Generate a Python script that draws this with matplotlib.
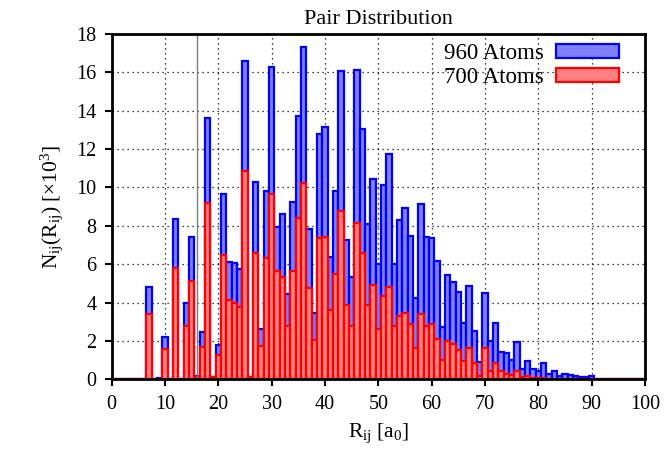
"""Pair distribution histogram for two cluster sizes (960 vs 700 atoms)."""

import matplotlib
matplotlib.use("Agg")
import matplotlib.pyplot as plt
import numpy as np

# bin centres R_ij [a_0], width 1
r_bins = list(range(0, 101))

# counts, units of 10^3
n_960 = [
    0, 0, 0, 0, 0, 0, 0, 4.79, 0, 0.05,
    2.22, 0, 8.33, 0, 3.96, 7.43, 0.15, 2.48, 13.6, 0.14,
    1.77, 9.64, 6.13, 6.04, 5.76, 16.58, 0.14, 10.30, 2.62, 9.83,
    16.25, 7.95, 8.61, 4.44, 9.25, 13.72, 17.33, 7.83, 3.44, 12.78,
    13.16, 6.39, 9.83, 16.08, 7.26, 5.31, 16.11, 13.02, 8.09, 10.42,
    5.99, 10.10, 11.72, 6.01, 8.30, 8.94, 7.47, 4.25, 9.15, 7.43,
    7.36, 6.18, 2.74, 5.43, 5.09, 4.53, 2.95, 4.88, 2.52, 0.90,
    4.48, 1.98, 2.95, 1.43, 1.39, 1.00, 1.96, 0.52, 0.95, 0.53,
    0.43, 0.87, 0.28, 0.45, 0.16, 0.28, 0.20, 0.17, 0.12, 0.14,
    0.15, 0.02, 0.02, 0.02, 0.02, 0.02, 0.02, 0.02, 0.02, 0.02,
    0.02,
]
n_700 = [
    0, 0, 0, 0, 0, 0, 0, 3.40, 0, 0.03,
    1.56, 0, 5.82, 0, 2.78, 5.14, 0.12, 1.70, 9.17, 0.12,
    1.25, 6.48, 4.13, 3.99, 3.78, 10.85, 0.12, 6.60, 1.75, 6.34,
    9.65, 5.63, 5.35, 2.78, 5.63, 8.39, 10.21, 4.76, 2.07, 7.34,
    7.43, 3.61, 5.47, 8.77, 3.87, 2.76, 8.16, 6.60, 3.85, 4.90,
    2.62, 4.34, 4.83, 2.78, 3.32, 3.44, 2.86, 1.65, 3.39, 2.80,
    2.88, 2.10, 1.01, 2.01, 1.82, 1.53, 0.97, 1.61, 0.85, 0.18,
    1.61, 0.44, 0.83, 0.43, 0.27, 0.21, 0.45, 0.10, 0.17, 0.08,
    0.07, 0.05, 0.02, 0.02, 0.02, 0.02, 0.02, 0.02, 0.02, 0.02,
    0.02, 0.02, 0.02, 0.02, 0.02, 0.02, 0.02, 0.02, 0.02, 0.02,
    0.02,
]
series_labels = ["960 Atoms", "700 Atoms"]
marker_r = 16

x_ticks = list(range(0, 101, 10))
y_ticks = list(range(0, 19, 2))

plt.rcParams["font.family"] = ["Liberation Serif", "DejaVu Serif"]
plt.rcParams["mathtext.fontset"] = "custom"
plt.rcParams["mathtext.rm"] = "Liberation Serif"
plt.rcParams["mathtext.it"] = "Liberation Serif:italic"

fig = plt.figure(figsize=(6.67, 4.62), dpi=100)
ax = fig.add_axes([0.1675, 0.179, 0.7995, 0.748])

ax.grid(True, linestyle=(0, (1, 3)), color="black", linewidth=0.9)
ax.set_axisbelow(True)

ax.bar(r_bins, n_960, width=1.0, facecolor="#8080ff", edgecolor="#0000ff",
       linewidth=1.6, label=series_labels[0], zorder=2)
ax.bar(r_bins, n_700, width=1.0, facecolor="#ff8080", edgecolor="#ff0000",
       linewidth=1.6, label=series_labels[1], zorder=3)

ax.axvline(marker_r, color="gray", linewidth=1.0, zorder=4)

ax.set_xlim(0, 100)
ax.set_ylim(0, 18)
ax.set_xticks(x_ticks)
ax.set_yticks(y_ticks)
ax.tick_params(direction="out", length=5, width=1.5, labelsize=14.5, pad=6)
for sp in ax.spines.values():
    sp.set_linewidth(2.0)
    sp.set_zorder(5)

ax.set_title("Pair Distribution", fontsize=16, pad=7)
ax.set_xlabel(r"R$_\mathrm{ij}$ [a$_\mathrm{0}$]", fontsize=15.5, labelpad=6)
ax.set_ylabel(r"N$_\mathrm{ij}$(R$_\mathrm{ij}$) [$\times$10$^\mathrm{3}$]",
              fontsize=15.5, labelpad=8)

ax.legend(loc="upper right", bbox_to_anchor=(0.952, 0.972), frameon=False,
          markerfirst=False, fontsize=16.5, handlelength=2.75, handleheight=0.55,
          handletextpad=0.55, borderpad=0, labelspacing=0.12, borderaxespad=0)

fig.savefig("out.png", dpi=100)
